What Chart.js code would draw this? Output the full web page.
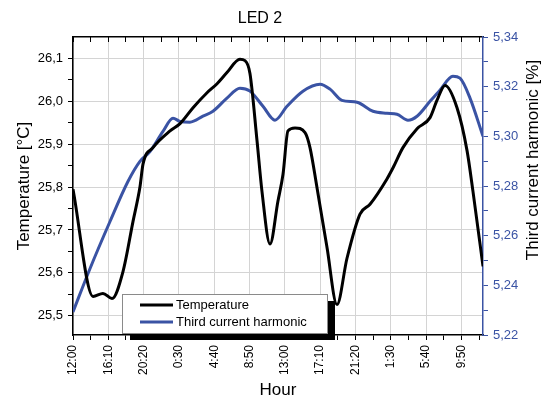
<!DOCTYPE html>
<html>
<head>
<meta charset="utf-8">
<script src="https://cdn.jsdelivr.net/npm/chart.js@4.4.1/dist/chart.umd.min.js"></script>
<style>
    html, body { margin: 0; padding: 0; background: #fff; }
    #wrap { width: 545px; height: 401px; }
</style>
</head>
<body>
<div id="wrap"><canvas id="chart-led"></canvas></div>
<script>
//*** DATA ***//
// minutes since 12:00 on the first day
const tempMinutes = [0, 142, 212, 276, 354, 425, 474, 496, 566, 687, 758, 850, 949, 1020, 1090, 1182, 1218, 1253,
    1303, 1338, 1395, 1451, 1487, 1522, 1572, 1643, 1678, 1728, 1798, 1869, 1940, 2032, 2103, 2223, 2266,
    2336, 2436, 2528, 2577, 2634, 2719, 2790, 2832, 2903];
const tempValues = [25.795, 25.545, 25.552, 25.540, 25.603, 25.72, 25.80, 25.854, 25.892, 25.931, 25.948, 25.985,
    26.02, 26.041, 26.067, 26.098, 26.095, 26.065, 25.908, 25.79, 25.667, 25.767, 25.83, 25.931, 25.938,
    25.927, 25.892, 25.798, 25.66, 25.526, 25.634, 25.737, 25.76, 25.819, 25.845, 25.892, 25.936, 25.962,
    26.002, 26.037, 25.985, 25.885, 25.79, 25.615];

const harmMinutes = [0, 120, 262, 389, 474, 545, 637, 708, 758, 828, 920, 991, 1090, 1182, 1253, 1345, 1430,
    1515, 1628, 1749, 1820, 1904, 2011, 2124, 2223, 2294, 2372, 2436, 2528, 2598, 2690, 2740, 2811, 2903];
const harmValues = [5.2293, 5.2467, 5.2657, 5.2818, 5.2899, 5.2939, 5.302, 5.3073, 5.306, 5.3057, 5.3081, 5.3101,
    5.3154, 5.3194, 5.3182, 5.3121, 5.3065, 5.3121, 5.3182, 5.321, 5.319, 5.3145, 5.3137, 5.3101, 5.3093,
    5.3089, 5.3065, 5.3081, 5.3141, 5.3186, 5.3242, 5.3234, 5.3154, 5.30];

// one label every 250 minutes
const hourTicks = ['12:00', '16:10', '20:20', '0:30', '4:40', '8:50', '13:00', '17:10', '21:20', '1:30', '5:40', '9:50'];

const BLUE = '#3a53a4';
const FONT = '"Liberation Sans", Arial, sans-serif';

//*** FUNCTIONS ***//
const toPoints = (xs, ys) => xs.map((x, i) => ({ x, y: ys[i] }));
const isMajor = (v, mult, every) => Math.round(v * mult) % every === 0;

// title, right axis title and the boxed legend with its shadow
const ledDecor = {
    id: 'ledDecor',
    afterDraw(chart) {
        const ctx = chart.ctx;
        ctx.save();
        ctx.fillStyle = '#000';
        ctx.textAlign = 'center';
        ctx.textBaseline = 'middle';
        ctx.font = '16px ' + FONT;
        ctx.fillText('LED 2', 260, 19);

        ctx.save();
        ctx.translate(533, 160);
        ctx.rotate(-Math.PI / 2);
        ctx.font = '17px ' + FONT;
        ctx.fillText('Third current harmonic [%]', 0, 0);
        ctx.restore();

        // legend
        ctx.fillStyle = '#000';
        ctx.fillRect(130, 301, 205, 39);
        ctx.fillStyle = '#fff';
        ctx.fillRect(122, 294, 205, 39);
        ctx.strokeStyle = '#8a8a8a';
        ctx.lineWidth = 1;
        ctx.strokeRect(122.5, 294.5, 205, 39);

        ctx.textAlign = 'left';
        ctx.font = '13px ' + FONT;
        chart.data.datasets.forEach((ds, i) => {
            const y = 305 + i * 17;
            ctx.strokeStyle = ds.borderColor;
            ctx.lineWidth = 3;
            ctx.beginPath();
            ctx.moveTo(140, y);
            ctx.lineTo(173, y);
            ctx.stroke();
            ctx.fillStyle = '#000';
            ctx.fillText(ds.label, 176, y);
        });
        ctx.restore();
    }
};

//*** CHART ***//
Chart.defaults.font.family = FONT;

new Chart(document.getElementById('chart-led'), {
    type: 'line',
    data: {
        datasets: [{
            label: 'Temperature',
            data: toPoints(tempMinutes, tempValues),
            borderColor: '#000',
            borderWidth: 3,
            pointRadius: 0,
            cubicInterpolationMode: 'monotone',
            xAxisID: 'x',
            yAxisID: 'y'
        }, {
            label: 'Third current harmonic',
            data: toPoints(harmMinutes, harmValues),
            borderColor: BLUE,
            borderWidth: 3,
            pointRadius: 0,
            cubicInterpolationMode: 'monotone',
            xAxisID: 'x',
            yAxisID: 'y1'
        }]
    },
    options: {
        responsive: true,
        maintainAspectRatio: false,
        animation: false,
        devicePixelRatio: 1,
        layout: { padding: 0 },
        plugins: {
            legend: { display: false },
            title: { display: false },
            tooltip: { enabled: false }
        },
        scales: {
            x: {
                type: 'linear',
                position: 'bottom',
                min: 0,
                max: 2903,
                ticks: {
                    stepSize: 125,
                    includeBounds: false,
                    autoSkip: false,
                    minRotation: 90,
                    maxRotation: 90,
                    padding: 5,
                    color: '#000',
                    font: { size: 12 },
                    callback: v => (v % 250 === 0 ? hourTicks[v / 250] : '')
                },
                grid: {
                    color: c => (c.tick && c.tick.value % 250 === 0 ? '#d4d4d4' : 'transparent'),
                    tickColor: '#000',
                    tickLength: 5
                },
                border: { color: '#000', width: 1.5 },
                title: { display: true, text: 'Hour', color: '#000', font: { size: 17 }, padding: { top: 0, bottom: 0 } },
                afterFit: s => { s.height = 66; }
            },
            x2: {
                type: 'linear',
                position: 'top',
                min: 0,
                max: 2903,
                ticks: { display: false, stepSize: 125, includeBounds: false },
                grid: { drawOnChartArea: false, tickColor: '#000', tickLength: -5 },
                border: { color: '#000', width: 1.5 },
                afterFit: s => { s.height = 37; }
            },
            y: {
                position: 'left',
                min: 25.455,
                max: 26.15,
                ticks: {
                    stepSize: 0.05,
                    includeBounds: false,
                    autoSkip: false,
                    padding: 5,
                    color: '#000',
                    font: { size: 13 },
                    callback: v => (isMajor(v, 100, 10) ? v.toFixed(1).replace('.', ',') : '')
                },
                grid: {
                    color: c => (c.tick && isMajor(c.tick.value, 100, 10) ? '#d4d4d4' : 'transparent'),
                    tickColor: '#000',
                    tickLength: 5
                },
                border: { color: '#000', width: 1.5 },
                title: { display: true, text: 'Temperature [°C]', color: '#000', font: { size: 17 }, padding: { top: 14, bottom: 0 } },
                afterFit: s => { s.width = 73; }
            },
            y1: {
                position: 'right',
                min: 5.22,
                max: 5.34,
                ticks: {
                    stepSize: 0.01,
                    includeBounds: false,
                    autoSkip: false,
                    padding: 5,
                    color: BLUE,
                    font: { size: 13 },
                    callback: v => (isMajor(v, 100, 2) ? v.toFixed(2).replace('.', ',') : '')
                },
                grid: { drawOnChartArea: false, tickColor: BLUE, tickLength: 5 },
                border: { color: BLUE, width: 1.5 },
                afterFit: s => { s.width = 62; }
            }
        }
    },
    plugins: [ledDecor]
});
</script>
</body>
</html>
